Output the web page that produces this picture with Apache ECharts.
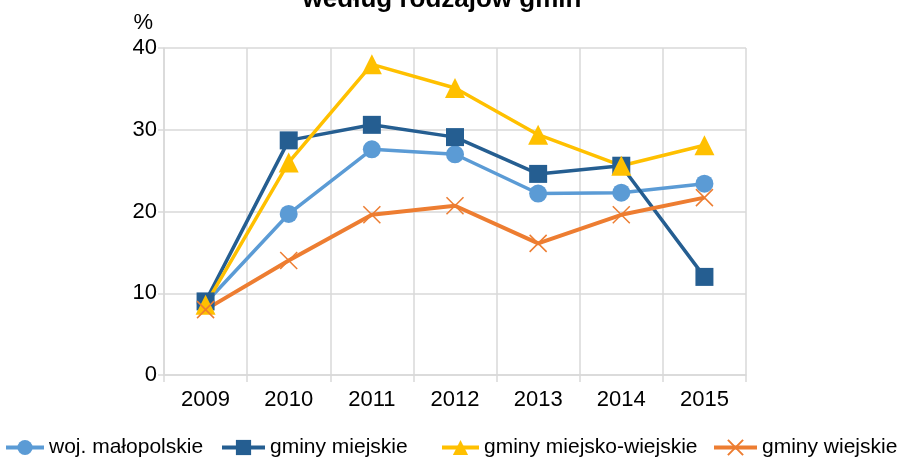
<!DOCTYPE html>
<html>
<head>
<meta charset="utf-8">
<script src="https://cdn.jsdelivr.net/npm/echarts@6/dist/echarts.min.js"></script>
<style>
html,body{margin:0;padding:0;background:#fff;}
#chart{width:901px;height:462px;}
</style>
</head>
<body>
<div id="chart"></div>
<script>
var years = ['2009', '2010', '2011', '2012', '2013', '2014', '2015'];
var wojMalopolskie = [8.8, 19.7, 27.6, 27.0, 22.2, 22.3, 23.4];
var gminyMiejskie = [9.0, 28.7, 30.6, 29.1, 24.6, 25.6, 12.0];
var gminyMiejskoWiejskie = [8.6, 26.0, 38.0, 35.1, 29.4, 25.6, 28.1];
var gminyWiejskie = [8.0, 14.0, 19.6, 20.7, 16.1, 19.6, 21.7];
var yTicks = [0, 10, 20, 30, 40];

var font = 'Liberation Sans, Arial, sans-serif';
var gridLine = '#d9d9d9';
var crossPath = 'path://M0,0 L10,10 M10,0 L0,10';

function makeSeries(name, data, color, symbol, size) {
    return {
        name: name,
        type: 'line',
        data: data,
        symbol: symbol,
        symbolSize: size,
        itemStyle: {color: color},
        lineStyle: {color: color, width: 3.5},
        z: 2
    };
}

// legenda rozstawiona recznie, jak w oryginale
function legendAt(left, width, name) {
    return {
        left: left,
        bottom: 4,
        padding: 0,
        data: [name],
        itemWidth: width,
        itemHeight: 19,
        itemGap: 0,
        lineStyle: {width: 4},
        textStyle: {fontFamily: font, fontSize: 21, color: '#000'}
    };
}

var chart = echarts.init(document.getElementById('chart'));
chart.setOption({
    animation: false,
    title: {
        text: 'według rodzajów gmin',
        left: 437,
        textAlign: 'center',
        top: -18,
        textStyle: {fontFamily: font, fontSize: 26, fontWeight: 'bold', color: '#000'}
    },
    legend: [
        legendAt(4, 38, 'woj. małopolskie'),
        legendAt(220, 43, 'gminy miejskie'),
        legendAt(440, 37, 'gminy miejsko-wiejskie'),
        legendAt(712, 43, 'gminy wiejskie')
    ],
    grid: {left: 164, right: 155, top: 48, bottom: 87},
    xAxis: {
        type: 'category',
        data: years,
        boundaryGap: true,
        axisLine: {lineStyle: {color: gridLine, width: 1.5}},
        axisTick: {show: true, length: 7, lineStyle: {color: gridLine, width: 1.5}},
        splitLine: {show: true, lineStyle: {color: gridLine, width: 1.5}},
        axisLabel: {fontFamily: font, fontSize: 22, color: '#000', margin: 14}
    },
    yAxis: {
        type: 'value',
        min: yTicks[0],
        max: yTicks[yTicks.length - 1],
        interval: 10,
        name: '%',
        nameLocation: 'end',
        nameGap: 14,
        nameTextStyle: {fontFamily: font, fontSize: 22, color: '#000', align: 'right', padding: [0, 11, 0, 0]},
        axisLine: {show: true, lineStyle: {color: gridLine, width: 1.5}},
        axisTick: {show: true, length: 6, lineStyle: {color: gridLine, width: 1.5}},
        splitLine: {show: true, lineStyle: {color: gridLine, width: 1.5}},
        axisLabel: {fontFamily: font, fontSize: 22, color: '#000', margin: 7, verticalAlign: 'middle', padding: [7, 0, 0, 0]}
    },
    series: [
        makeSeries('woj. małopolskie', wojMalopolskie, '#5b9bd5', 'circle', 18),
        makeSeries('gminy miejskie', gminyMiejskie, '#255e91', 'rect', 18),
        makeSeries('gminy miejsko-wiejskie', gminyMiejskoWiejskie, '#ffc000', 'triangle', 20),
        {
            name: 'gminy wiejskie',
            type: 'line',
            data: gminyWiejskie,
            symbol: crossPath,
            symbolSize: 17,
            itemStyle: {color: 'none', borderColor: '#ed7d31', borderWidth: 1.5},
            lineStyle: {color: '#ed7d31', width: 4},
            z: 2
        }
    ]
});
</script>
</body>
</html>
